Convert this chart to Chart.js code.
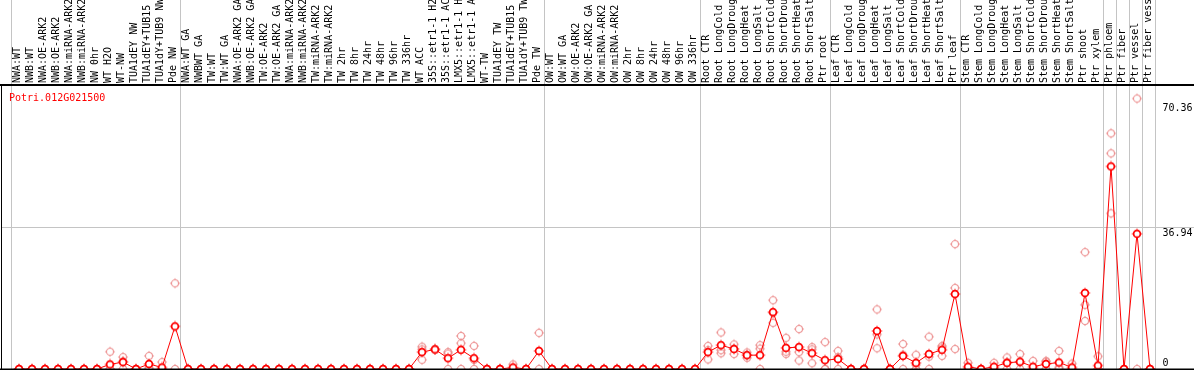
<!DOCTYPE html>
<html><head><meta charset="utf-8">
<style>html,body{margin:0;padding:0;background:#fff;overflow:hidden}#wrap{width:1194px;height:370px;position:relative}</style>
<script src="https://cdn.jsdelivr.net/npm/chart.js@4.4.0/dist/chart.umd.min.js"></script>
</head><body><div id="wrap"><canvas id="c" width="1194" height="370"></canvas></div>
<script>
const geneName = 'Potri.012G021500';
const categories = [
 'NWA:WT','NWB:WT','NWA:OE-ARK2','NWB:OE-ARK2','NWA:miRNA-ARK2','NWB:miRNA-ARK2','NW 0hr','WT H2O','WT-NW','TUA1dEY NW','TUA1dEY+TUB15','TUA1dY+TUB9 NW','Pde NW',
 'NWA:WT GA','NWBWT GA','TW:WT','TW:WT GA','NWA:OE-ARK2 GA','NWB:OE-ARK2 GA','TW:OE-ARK2','TW:OE-ARK2 GA','NWA:miRNA-ARK2','NWB:miRNA-ARK2','TW:miRNA-ARK2','TW:miRNA-ARK2 ','TW 2hr','TW 8hr','TW 24hr','TW 48hr','TW 96hr','TW 336hr','WT ACC','35S::etr1-1 H2','35S::etr1-1 AC','LMX5::etr1-1 H','LMX5::etr1-1 A','WT-TW','TUA1dEY TW','TUA1dEY+TUB15','TUA1dY+TUB9 TW','Pde TW',
 'OW:WT','OW:WT GA','OW:OE-ARK2','OW:OE-ARK2 GA','OW:miRNA-ARK2','OW:miRNA-ARK2 ','OW 2hr','OW 8hr','OW 24hr','OW 48hr','OW 96hr','OW 336hr',
 'Root CTR','Root LongCold','Root LongDroug','Root LongHeat','Root LongSalt','Root ShortCold','Root ShortDrou','Root ShortHeat','Root ShortSalt','Ptr root',
 'Leaf CTR','Leaf LongCold','Leaf LongDroug','Leaf LongHeat','Leaf LongSalt','Leaf ShortCold','Leaf ShortDrou','Leaf ShortHeat','Leaf ShortSalt','Ptr leaf',
 'Stem CTR','Stem LongCold','Stem LongDroug','Stem LongHeat','Stem LongSalt','Stem ShortCold','Stem ShortDrou','Stem ShortHeat','Stem ShortSalt','Ptr shoot','Ptr xylem',
 'Ptr phloem','Ptr fiber','Ptr vessel','Ptr fiber vess'
];
// first category index of each separated group (last entry = end)
const groupStarts = [0, 13, 41, 53, 63, 73, 84, 85, 86, 87, 88];

const meanValues = [
 0,0,0,0,0,0,0, 1.2,1.8,0,1.3,0.4, 11.1,
 0,0,0,0,0,0,0,0,0,0,0,0,0,0,0,0,0,0, 4.4,5.1,2.8,5.0,2.8,0,0,0.4,0,4.7,
 0,0,0,0,0,0,0,0,0,0,0,0,
 4.4,6.2,5.2,3.6,3.6,14.8,5.5,5.7,4.1,2.3,
 2.6,0,0,9.9,0,3.4,1.6,3.9,5.0,19.5,
 0.6,0,0.6,1.6,1.9,0.6,1.3,1.7,0.4,19.8,0.9,
 52.7,0,35.18,0
];
const rep1 = [
 0,0,0,0,0,0,0, 4.5,3.1,0,3.4,1.8, 22.3,
 0,0,0,0,0,0,0,0,0,0,0,0,0,0,0,0,0,0, 5.8,5.1,4.4,8.6,6.0,0,0,1.2,0,9.4,
 0,0,0,0,0,0,0,0,0,0,0,0,
 6.0,9.5,6.4,4.3,6.2,17.9,8.1,10.4,5.7,7.0,
 4.7,0,0,15.5,0,6.5,3.7,8.4,6.0,32.5,
 1.6,0,1.6,3.0,3.9,2.1,2.1,4.7,1.4,30.4,3.3,
 61.3,0,70.36,0
];
const rep2 = [
 0,0,0,0,0,0,0, 0,0,0,0.3,0, 0,
 0,0,0,0,0,0,0,0,0,0,0,0,0,0,0,0,0,0, 2.4,5.1,4.0,6.7,0,0,0,0,0,0,
 0,0,0,0,0,0,0,0,0,0,0,0,
 2.5,4.1,3.9,2.9,5.3,12.0,3.9,2.2,1.5,0,
 0,0,0,5.4,0,0,0,0,3.4,21.1,
 0,0,0,0,0,0,1.8,0,0,16.7,0,
 56.1,0,0,0
];
const rep3 = [
 0,0,0,0,0,0,0, 0,2.0,0,0,0, null,
 0,0,0,0,0,0,0,0,0,0,0,0,0,0,0,0,0,0, 5.1,5.1,0,0,2.4,0,0,0,0,null,
 0,0,0,0,0,0,0,0,0,0,0,0,
 4.9,4.9,5.3,3.6,0,14.6,4.5,4.4,5.1,0,
 3.1,0,0,9.0,0,3.7,1.1,3.2,5.6,5.2,
 0.2,0,0.2,1.8,1.8,0,0,0.4,0,12.5,0,
 40.5,0,null,0
];
const yMax = 73.88;
const yTicks = [0, 36.94, 70.36];
const yTickLabels = ['0', '36.94', '70.36'];
const gridValues = [36.94];

const FONT = '"DejaVu Sans Mono", "Liberation Mono", monospace';

function makeMarker(stroke, lw, fill, r) {
  const c = document.createElement('canvas');
  c.width = 12; c.height = 12;
  const g = c.getContext('2d');
  g.beginPath(); g.arc(6, 6, r, 0, Math.PI * 2);
  if (fill) { g.fillStyle = fill; g.fill(); }
  g.strokeStyle = stroke; g.lineWidth = lw; g.stroke();
  g.fillStyle = stroke;
  const o = r + lw / 2;
  g.fillRect(5.5, 6 - o - 1, 1, 1);
  g.fillRect(5.5, 6 + o, 1, 1);
  g.fillRect(6 - o - 1, 5.5, 1, 1);
  g.fillRect(6 + o, 5.5, 1, 1);
  return c;
}
const meanMarker = makeMarker('#ff0000', 1.7, '#ffffff', 3.4);
const repMarker = makeMarker('rgba(236,140,140,0.95)', 1.1, null, 3.5);

const decor = {
  id: 'decor',
  beforeDatasetsDraw(chart) {
    const { ctx, chartArea: a, scales: { x, y } } = chart;
    const step = x.getPixelForValue(1) - x.getPixelForValue(0);
    ctx.save();
    ctx.strokeStyle = '#c4c4c4'; ctx.lineWidth = 1;
    groupStarts.forEach(s => {
      const px = Math.round(x.getPixelForValue(s) - step * 8 / 13) + 0.5;
      ctx.beginPath(); ctx.moveTo(px, 0); ctx.lineTo(px, a.bottom); ctx.stroke();
    });
    gridValues.forEach(v => {
      const py = Math.round(y.getPixelForValue(v)) + 0.5;
      ctx.beginPath(); ctx.moveTo(2, py); ctx.lineTo(chart.width, py); ctx.stroke();
    });
    ctx.restore();
  },
  afterDraw(chart) {
    const { ctx, chartArea: a, scales: { y } } = chart;
    ctx.save();
    ctx.strokeStyle = '#000'; ctx.lineWidth = 2;
    ctx.beginPath(); ctx.moveTo(0, a.top); ctx.lineTo(chart.width, a.top); ctx.stroke();
    ctx.beginPath(); ctx.moveTo(0, 369.5); ctx.lineTo(chart.width, 369.5); ctx.stroke();
    ctx.lineWidth = 1;
    ctx.beginPath(); ctx.moveTo(1.5, a.top); ctx.lineTo(1.5, chart.height); ctx.stroke();
    ctx.fillStyle = '#000';
    ctx.font = '10px ' + FONT;
    ctx.textAlign = 'left'; ctx.textBaseline = 'alphabetic';
    yTicks.forEach((v, i) => {
      const py = y.getPixelForValue(v);
      const dy = i === 0 ? -3 : (i === yTicks.length - 1 ? 12 : 9);
      ctx.fillText(yTickLabels[i], a.right + 6, py + dy);
    });
    ctx.fillStyle = '#ff0000';
    ctx.fillText(geneName, 9, a.top + 15.5);
    ctx.restore();
  }
};

new Chart(document.getElementById('c'), {
  type: 'line',
  data: {
    labels: categories,
    datasets: [
      { label: 'mean', data: meanValues, borderColor: '#ff0000', borderWidth: 1, tension: 0,
        pointStyle: meanMarker, pointRadius: 4, pointHoverRadius: 4, order: 0, clip: false },
      { label: 'rep1', data: rep1, showLine: false, pointStyle: repMarker, pointRadius: 4, order: 1, clip: false },
      { label: 'rep2', data: rep2, showLine: false, pointStyle: repMarker, pointRadius: 4, order: 2, clip: false },
      { label: 'rep3', data: rep3, showLine: false, pointStyle: repMarker, pointRadius: 4, order: 3, clip: false }
    ]
  },
  options: {
    responsive: false, animation: false, devicePixelRatio: 1,
    layout: { autoPadding: false, padding: { left: 12.5, right: 37.5, top: 0, bottom: 1 } },
    plugins: { legend: { display: false }, tooltip: { enabled: false }, title: { display: false } },
    events: [],
    scales: {
      x: {
        type: 'category', position: 'top', offset: true,
        grid: { display: false, drawTicks: false },
        border: { display: false },
        ticks: { autoSkip: false, maxRotation: 90, minRotation: 90, padding: 2, labelOffset: 10,
          color: '#000', font: { family: FONT, size: 10 } },
        afterFit(s) { s.height = 85; }
      },
      y: {
        display: false, min: 0, max: yMax,
        afterFit(s) { s.width = 0; }
      }
    }
  },
  plugins: [decor]
});
</script>
</body></html>
